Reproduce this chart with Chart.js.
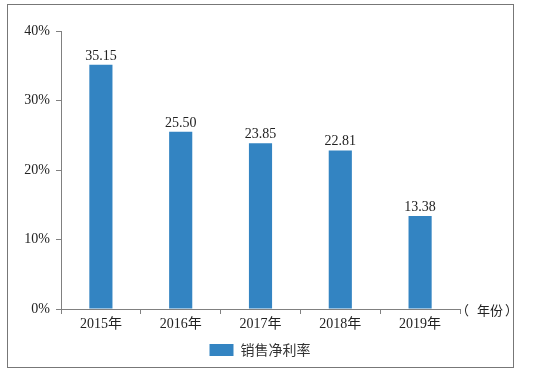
<!DOCTYPE html>
<html>
<head>
<meta charset="utf-8">
<script src="https://cdn.jsdelivr.net/npm/chart.js@4.4.1/dist/chart.umd.min.js"></script>
<style>
    html, body { margin: 0; padding: 0; background: #fff; }
    #wrap { position: relative; width: 533px; height: 377px; }
    #frame { position: absolute; left: 7px; top: 4px; width: 507px; height: 364px; border: 1px solid #777; box-sizing: border-box; }
    #myChart { position: absolute; left: 0; top: 0; }
</style>
</head>
<body>
<div id="wrap">
    <div id="frame"></div>
    <canvas id="myChart" width="533" height="377"></canvas>
</div>
<script>
const years = ['2015年', '2016年', '2017年', '2018年', '2019年'];
const netMargin = [35.15, 25.50, 23.85, 22.81, 13.38];
const seriesName = '销售净利率';
const yTicks = [0, 10, 20, 30, 40];
const xUnit = '（年份）';

const serif = "'Liberation Serif', 'Noto Sans CJK SC', serif";
const barColor = '#3384c2';
const axisColor = '#808080';

// value labels above the bars
const valueLabels = {
    id: 'valueLabels',
    afterDatasetsDraw(chart) {
        const ctx = chart.ctx;
        const meta = chart.getDatasetMeta(0);
        ctx.save();
        ctx.font = "14px " + serif;
        ctx.fillStyle = '#222';
        ctx.textAlign = 'center';
        ctx.textBaseline = 'alphabetic';
        meta.data.forEach((bar, i) => {
            ctx.fillText(netMargin[i].toFixed(2), bar.x, bar.y - 5);
        });
        ctx.restore();
    }
};

// "(年份)" at the end of the x axis, legend moved under the plot
const axisUnit = {
    id: 'axisUnit',
    afterLayout(chart) {
        chart.legend.left += 30;
        chart.legend.right += 30;
    },
    afterDraw(chart) {
        const ctx = chart.ctx;
        const x = chart.scales.x;
        const y = x.top + 1;
        ctx.save();
        ctx.font = "13px 'Noto Sans CJK SC', sans-serif";
        ctx.fillStyle = '#222';
        ctx.textAlign = 'left';
        ctx.textBaseline = 'middle';
        // spread the full-width brackets apart like the original
        ctx.fillText(xUnit[0], x.right - 4, y);
        ctx.fillText(xUnit.slice(1, -1), x.right + 17, y);
        ctx.fillText(xUnit[xUnit.length - 1], x.right + 45, y);
        ctx.restore();
    }
};

const ctx = document.getElementById('myChart');
new Chart(ctx, {
    type: 'bar',
    data: {
        labels: years,
        datasets: [
            {
                label: seriesName,
                data: netMargin,
                backgroundColor: barColor,
                borderWidth: 0,
                categoryPercentage: 1,
                barPercentage: 0.29,
            },
        ],
    },
    options: {
        responsive: false,
        animation: false,
        layout: {
            padding: { left: 0, right: 73, top: 31, bottom: 10 }
        },
        plugins: {
            legend: {
                position: 'bottom',
                labels: {
                    boxWidth: 24,
                    boxHeight: 12,
                    padding: 10,
                    color: '#333',
                    font: { size: 14, family: "'Noto Sans CJK SC', sans-serif" }
                }
            },
            tooltip: { enabled: false },
        },
        scales: {
            x: {
                offset: true,
                grid: {
                    offset: true,
                    drawOnChartArea: false,
                    tickLength: 5,
                    color: axisColor,
                },
                border: { color: axisColor },
                ticks: {
                    padding: 2,
                    color: '#222',
                    font: { size: 14, family: serif }
                },
                afterFit(scale) { scale.height = 24; }
            },
            y: {
                min: 0,
                max: 40,
                afterBuildTicks(scale) { scale.ticks = yTicks.map(v => ({ value: v })); },
                grid: {
                    drawOnChartArea: false,
                    tickLength: 5,
                    color: axisColor,
                },
                border: { color: axisColor },
                ticks: {
                    padding: 6,
                    color: '#222',
                    font: { size: 14, family: serif },
                    callback: (v) => v + '%'
                },
                afterFit(scale) { scale.width = 61; }
            }
        }
    },
    plugins: [valueLabels, axisUnit]
});
</script>
</body>
</html>
